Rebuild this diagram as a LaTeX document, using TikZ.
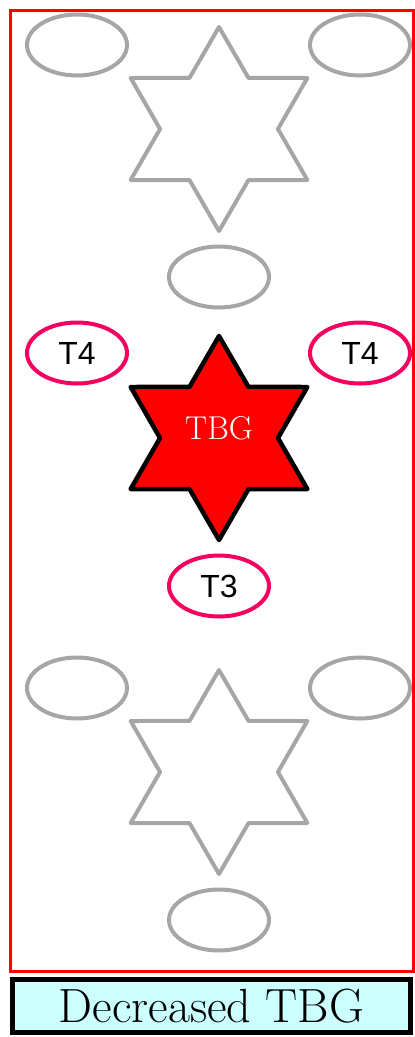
\documentclass[tikz,border=0pt]{standalone}
\usepackage{fontspec}
\newfontfamily\labelfont{Liberation Sans}
\usetikzlibrary{shapes.geometric}
\definecolor{faded}{HTML}{A6A6A6}
\definecolor{hormone}{HTML}{F5005F}
\definecolor{captionfill}{HTML}{CCFFFF}

\begin{document}
\begin{tikzpicture}[x=1pt, y=-1pt,
  hexstar/.style={star, star points=6, star point ratio=1.73, minimum size=204pt,
    inner sep=0pt, line width=4pt, line join=round},
  site/.style={ellipse, minimum width=100pt, minimum height=61pt, inner sep=0pt,
    line width=4pt},
  tag/.style={font=\labelfont\fontsize{32}{34}\selectfont}]
  \useasboundingbox (0,0) rectangle (415,1037);

  % Outer frame
  \draw[red, line width=3pt] (10,10) rectangle (413,971);

  % Faded copies above and below
  \foreach \y/\n in {129/up, 772/down} {
    \node[hexstar, draw=faded] (star-\n) at (219,\y) {};
    \node[site, draw=faded] (left-\n) at (77,\y-84) {};
    \node[site, draw=faded] (right-\n) at (360,\y-84) {};
    \node[site, draw=faded] (low-\n) at (219,\y+148) {};
  }

  % TBG with its bound hormones
  \node[hexstar, draw=black, fill=red, line width=4.5pt] (tbg) at (219,438) {};
  \node[white, font=\fontsize{33}{36}\selectfont] (tbg-text) at (219,428) {TBG};
  \node[site, draw=hormone, tag] (t4-left) at (77,353) {T4};
  \node[site, draw=hormone, tag] (t4-right) at (360,353) {T4};
  \node[site, draw=hormone, tag] (t3) at (219,586) {T3};

  % Caption
  \node[draw=black, line width=5pt, fill=captionfill, minimum width=398pt,
    minimum height=53pt, inner sep=0pt, font=\fontsize{48}{52}\selectfont]
    (caption) at (211.5,1006) {Decreased TBG};
\end{tikzpicture}
\end{document}
